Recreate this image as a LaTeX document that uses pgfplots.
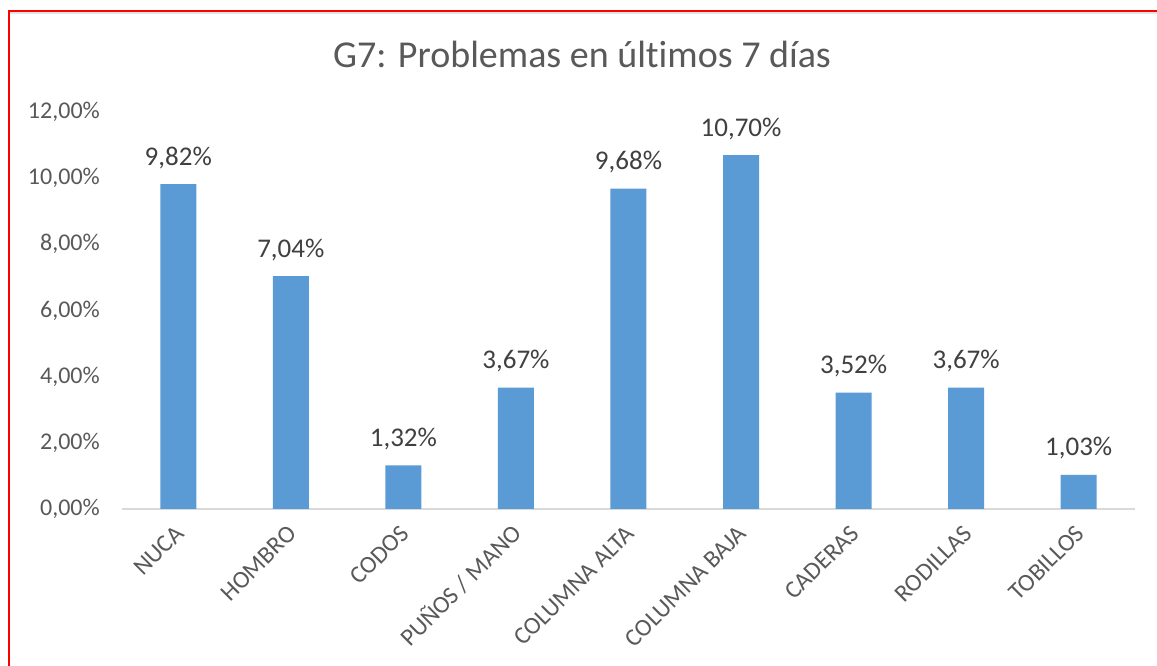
\documentclass[border=0pt]{standalone}
\usepackage{pgfplots}
\pgfplotsset{compat=1.18}
\usepackage{fontspec}
\setmainfont{Carlito}[Ligatures=NoCommon]
\definecolor{barblue}{HTML}{5B9BD5}
\definecolor{txtgray}{HTML}{595959}
\definecolor{lblgray}{HTML}{404040}
\definecolor{axgray}{HTML}{D9D9D9}
\begin{document}
\begin{tikzpicture}
\useasboundingbox (0,0) rectangle (1157bp,666bp);
\fill[white] (0,0) rectangle (1157bp,666bp);
\draw[axgray!70, line width=2bp] (10bp,653bp) -- (1157bp,653bp);
\draw[red, line width=2bp] (9bp,0) -- (9bp,655bp) -- (1157bp,655bp);
\node[anchor=base, font=\fontsize{38bp}{44bp}\selectfont, text=txtgray] at (582bp,598bp) {G7: Problemas en últ\kern0pt imos 7 días};
\begin{axis}[
  at={(122bp,157bp)}, anchor=south west,
  scale only axis, width=1013bp, height=397bp,
  xmin=-0.5, xmax=8.5, ymin=0, ymax=12,
  axis lines*=left,
  y axis line style={draw=none},
  x axis line style={draw=axgray, line width=1.5bp},
  major tick length=0pt,
  ytick={0,2,4,6,8,10,12},
  yticklabels={{0,00\%},{2,00\%},{4,00\%},{6,00\%},{8,00\%},{10,00\%},{12,00\%}},
  yticklabel style={font=\fontsize{24bp}{28bp}\selectfont, text=txtgray, inner sep=0pt, anchor=east, xshift=-22bp},
  xtick={0,1,2,3,4,5,6,7,8},
  xticklabels={NUCA,HOMBRO,CODOS,PUÑOS / MANO,COLUMNA ALTA,COLUMNA BAJA,CADERAS,RODILLAS,TOBILLOS},
  xticklabel style={font=\fontsize{24.5bp}{28bp}\selectfont, text=txtgray, inner sep=0pt, xshift=7bp, yshift=-26bp, rotate=45, anchor=base east},
  ybar, bar width=36bp,
  nodes near coords={\pgfmathprintnumber[fixed,fixed zerofill,precision=2,use comma,assume math mode=true]{\pgfplotspointmeta}\%},
  nodes near coords style={font=\fontsize{27bp}{32bp}\selectfont, text=lblgray, inner sep=0pt, anchor=base, yshift=19bp},
  clip=false,
]
\addplot[fill=barblue, draw=none] coordinates {
  (0,9.82) (1,7.04) (2,1.32) (3,3.67) (4,9.68) (5,10.70) (6,3.52) (7,3.67) (8,1.03)
};
\end{axis}
\end{tikzpicture}
\end{document}
